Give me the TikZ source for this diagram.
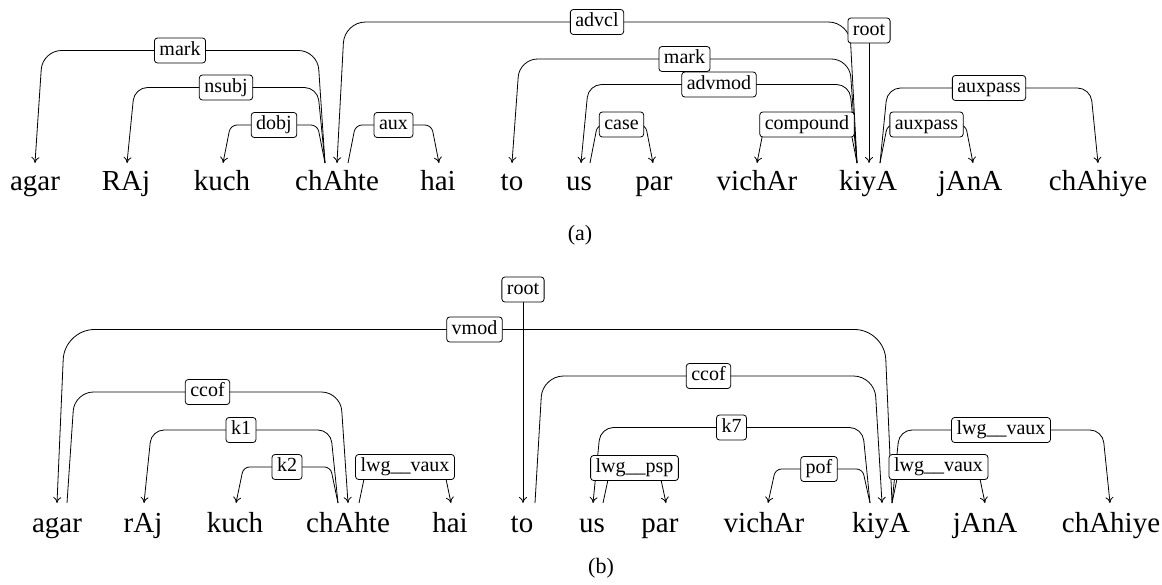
\documentclass[tikz,border=0pt]{standalone}
\usepackage{fontspec}
\setmainfont{Liberation Serif}
\usetikzlibrary{arrows.meta,backgrounds}
\tikzset{
  word/.style={anchor=base, inner sep=0pt, font=\fontsize{29}{34}\selectfont},
  lbl/.style={draw, rounded corners=3pt, fill=white, inner xsep=5pt, inner ysep=0pt,
    text height=14pt, text depth=5pt, minimum height=25pt,
    font=\fontsize{20}{24}\selectfont, line width=0.8pt},
  arc/.style={line width=0.8pt, -{To[length=6pt,width=8pt]}},
  captext/.style={anchor=base, inner sep=0pt, font=\fontsize{22}{26}\selectfont},
}
% start left, end right
\newcommand\depR[4]{\draw[arc,rounded corners=#4pt] (#1) -- ([xshift=7.5pt]#1 |- #3.center) -- (#3.center) -- ([xshift=-7.5pt]#2 |- #3.center) -- (#2);}
% start right, end left
\newcommand\depL[4]{\draw[arc,rounded corners=#4pt] (#1) -- ([xshift=-7.5pt]#1 |- #3.center) -- (#3.center) -- ([xshift=7.5pt]#2 |- #3.center) -- (#2);}
\begin{document}
\begin{tikzpicture}[x=1pt,y=-1pt]
\useasboundingbox (0,0) rectangle (1162,584);

% ---------------- (a) ----------------
\node[word] (wa1) at (35,190) {agar};
\node[word] (wa2) at (126,190) {RAj};
\node[word] (wa3) at (222,190) {kuch};
\node[word] (wa4) at (337,190) {chAhte};
\node[word] (wa5) at (438,190) {hai};
\node[word] (wa6) at (512,190) {to};
\node[word] (wa7) at (579,190) {us};
\node[word] (wa8) at (654,190) {par};
\node[word] (wa9) at (757,190) {vichAr};
\node[word] (wa10) at (868,190) {kiyA};
\node[word] (wa11) at (970,190) {jAnA};
\node[word] (wa12) at (1098,190) {chAhiye};
\node[captext] (capa) at (580,240) {(a)};

\coordinate (a-agar) at (35,163);
\coordinate (a-raj) at (127,163);
\coordinate (a-kuch) at (223,163);
\coordinate (a-chahteL) at (325,163);
\coordinate (a-chahteI) at (337,163);
\coordinate (a-chahteR) at (348,163);
\coordinate (a-hai) at (439,163);
\coordinate (a-to) at (512,163);
\coordinate (a-usI) at (581,163);
\coordinate (a-usO) at (590,163);
\coordinate (a-par) at (653,163);
\coordinate (a-vichar) at (757,163);
\coordinate (a-kiyaL) at (857,163);
\coordinate (a-kiyaM) at (869,163);
\coordinate (a-kiyaR) at (880,163);
\coordinate (a-jana) at (973,163);
\coordinate (a-chahiye) at (1098,163);

\node[lbl] (la-mark1) at (180,50.5) {mark};
\node[lbl] (la-nsubj) at (226,87.5) {nsubj};
\node[lbl] (la-dobj) at (274,125) {dobj};
\node[lbl] (la-aux) at (393.5,125) {aux};
\node[lbl] (la-advcl) at (597,22) {advcl};
\node[lbl] (la-mark2) at (684.5,59) {mark};
\node[lbl] (la-advmod) at (719,84.5) {advmod};
\node[lbl] (la-case) at (621.5,124.5) {case};
\node[lbl] (la-comp) at (807,124.5) {compound};
\node[lbl] (la-root) at (869,30.5) {root};
\node[lbl] (la-auxp1) at (989,88) {auxpass};
\node[lbl] (la-auxp2) at (926.5,124.5) {auxpass};

% ---------------- (b) ----------------
\node[word] (wb1) at (57,532) {agar};
\node[word] (wb2) at (143,532) {rAj};
\node[word] (wb3) at (235,532) {kuch};
\node[word] (wb4) at (348,532) {chAhte};
\node[word] (wb5) at (450,532) {hai};
\node[word] (wb6) at (522,532) {to};
\node[word] (wb7) at (592,532) {us};
\node[word] (wb8) at (660,532) {par};
\node[word] (wb9) at (764,532) {vichAr};
\node[word] (wb10) at (881,532) {kiyA};
\node[word] (wb11) at (985,532) {jAnA};
\node[word] (wb12) at (1111,532) {chAhiye};
\node[captext] (capb) at (601,573) {(b)};

\coordinate (b-agarI) at (57,503);
\coordinate (b-agarO) at (67,503);
\coordinate (b-raj) at (144,503);
\coordinate (b-kuch) at (236,503);
\coordinate (b-chahteL) at (338,503);
\coordinate (b-chahteI) at (348,503);
\coordinate (b-chahteR) at (359,503);
\coordinate (b-hai) at (451,503);
\coordinate (b-toI) at (523,503);
\coordinate (b-toO) at (535,503);
\coordinate (b-usI) at (593,503);
\coordinate (b-usO) at (603,503);
\coordinate (b-par) at (666,503);
\coordinate (b-vichar) at (768,503);
\coordinate (b-kiyaL) at (870,503);
\coordinate (b-kiyaI) at (882,503);
\coordinate (b-kiyaR) at (892,503);
\coordinate (b-jana) at (985,503);
\coordinate (b-chahiye) at (1110,503);

\node[lbl] (lb-vmod) at (474.5,329.5) {vmod};
\node[lbl] (lb-ccof1) at (207.5,392) {ccof};
\node[lbl] (lb-k1) at (241,430) {k1};
\node[lbl] (lb-k2) at (287,467) {k2};
\node[lbl] (lb-lwg1) at (405,467) {lwg\_\_vaux};
\node[lbl] (lb-root) at (523,289.5) {root};
\node[lbl] (lb-ccof2) at (708.5,376) {ccof};
\node[lbl] (lb-k7) at (731.5,427.5) {k7};
\node[lbl] (lb-psp) at (634.5,468) {lwg\_\_psp};
\node[lbl] (lb-pof) at (819,469) {pof};
\node[lbl] (lb-lwg2) at (1001,430) {lwg\_\_vaux};
\node[lbl] (lb-lwg3) at (938.5,467) {lwg\_\_vaux};

\begin{pgfonlayer}{background}
% (a)
\depL{a-chahteL}{a-agar}{la-mark1}{19}
\depL{a-chahteL}{a-raj}{la-nsubj}{13}
\depL{a-chahteL}{a-kuch}{la-dobj}{6.5}
\depR{a-chahteR}{a-hai}{la-aux}{6.5}
\depL{a-kiyaL}{a-chahteI}{la-advcl}{21}
\depL{a-kiyaL}{a-to}{la-mark2}{18}
\depL{a-kiyaL}{a-usI}{la-advmod}{13}
\depR{a-usO}{a-par}{la-case}{6.5}
\depL{a-kiyaL}{a-vichar}{la-comp}{6.5}
\depR{a-kiyaR}{a-chahiye}{la-auxp1}{13}
\depR{a-kiyaR}{a-jana}{la-auxp2}{6.5}
\draw[arc] (la-root) -- (a-kiyaM);
% (b)
\depL{b-kiyaR}{b-agarI}{lb-vmod}{30}
\depR{b-agarO}{b-chahteI}{lb-ccof1}{19}
\depL{b-chahteL}{b-raj}{lb-k1}{12.5}
\depL{b-chahteL}{b-kuch}{lb-k2}{6}
\depR{b-chahteR}{b-hai}{lb-lwg1}{6}
\draw[arc] (lb-root) -- (b-toI);
\depR{b-toO}{b-kiyaI}{lb-ccof2}{21}
\depL{b-kiyaL}{b-usI}{lb-k7}{13}
\depR{b-usO}{b-par}{lb-psp}{6}
\depL{b-kiyaL}{b-vichar}{lb-pof}{6}
\depR{b-kiyaR}{b-chahiye}{lb-lwg2}{12.5}
\depR{b-kiyaR}{b-jana}{lb-lwg3}{6}
\end{pgfonlayer}
\end{tikzpicture}
\end{document}
